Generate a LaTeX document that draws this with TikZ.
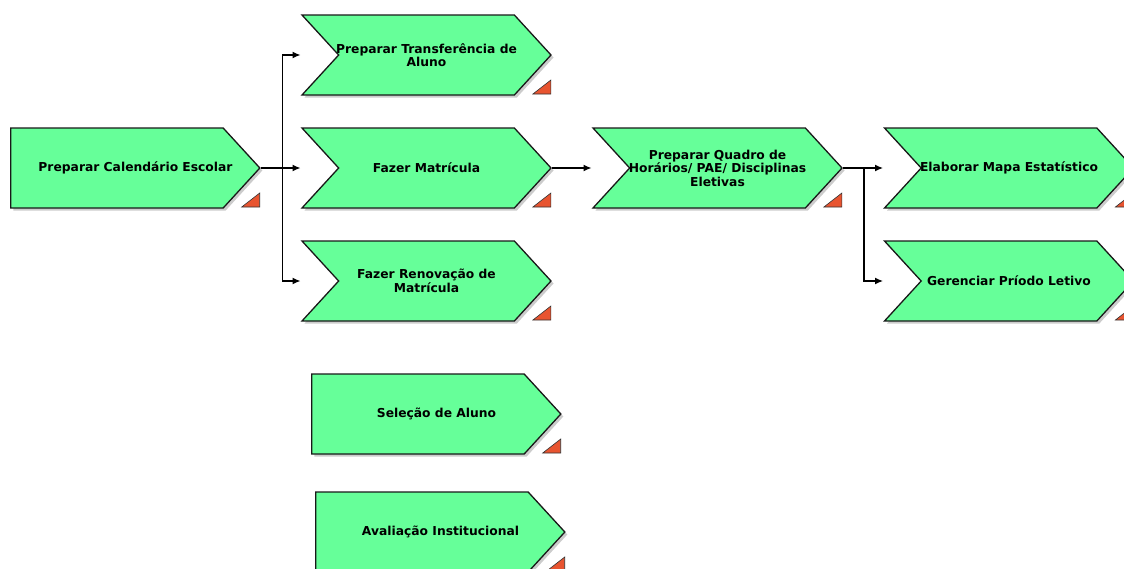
\documentclass[tikz,border=0pt]{standalone}
\usepackage{fontspec}
\setmainfont{DejaVu Sans}
\usepackage{tikz}
\usetikzlibrary{arrows.meta,calc,shapes.symbols,shadows}
\definecolor{fgreen}{RGB}{102,255,153}
\definecolor{fred}{RGB}{232,84,48}
\tikzset{
  >={Latex[length=8pt,width=7pt]},
  fnc/.style={signal,signal to=east,signal from=west,signal pointer angle=95,draw=black!90,line width=1.3pt,fill=fgreen,
    minimum width=249pt,minimum height=80pt,inner xsep=-30pt,inner ysep=0pt,align=center,
    font=\bfseries\fontsize{12.3}{13.5}\selectfont,
    drop shadow={shadow xshift=2.5pt,shadow yshift=-2.5pt,fill=black!40}},
  fn/.style={fnc,signal from=nowhere,execute at begin node=\hspace*{18.5pt},execute at end node=\hspace*{-18.5pt}},
  tri/.style={fill=fred,draw=black!80,line width=0.6pt},
  every picture/.style={line width=1.4pt},
}
\begin{document}
\begin{tikzpicture}[x=1pt,y=-1pt]
\useasboundingbox (0,0) rectangle (1124,568);
\node[fn] (cal) at (117,168){Preparar Calendário Escolar};
\node[fnc] (tr) at (426.5,55){Preparar Transferência de\\Aluno};
\node[fnc] (mat) at (426.5,168){Fazer Matrícula};
\node[fnc] (ren) at (426.5,281){Fazer Renovação de\\Matrícula};
\node[fnc] (qd) at (717.5,168){Preparar Quadro de\\Horários/ PAE/ Disciplinas\\Eletivas};
\node[fnc] (mp) at (1009,168){Elaborar Mapa Estatístico};
\node[fnc] (pl) at (1009,281){Gerenciar Príodo Letivo};
\node[fn] (sel) at (418,414){Seleção de Aluno};
\node[fn] (av) at (422,532){Avaliação Institucional};
\foreach \n in {cal,tr,mat,ren,qd,mp,pl,sel,av}
  \filldraw[tri] ($(\n.east)+(-19,39)$) -- ++(18,0) -- ++(0,-14) -- cycle;
\coordinate (j1) at ($(cal.east)+(22,0)$); \coordinate (j2) at ($(qd.east)+(21,0)$);
\draw (cal.east)--(j1); \draw (qd.east)--(j2);
\draw[->] (j1) |- ($(tr.north west)!.5!(tr.south west)$);
\draw[->] (j1) |- ($(mat.north west)!.5!(mat.south west)$);
\draw[->] (j1) |- ($(ren.north west)!.5!(ren.south west)$);
\draw[->] (mat.east) -- ($(qd.north west)!.5!(qd.south west)$);
\draw[->] (j2) |- ($(mp.north west)!.5!(mp.south west)$);
\draw[->] (j2) |- ($(pl.north west)!.5!(pl.south west)$);
\end{tikzpicture}
\end{document}
